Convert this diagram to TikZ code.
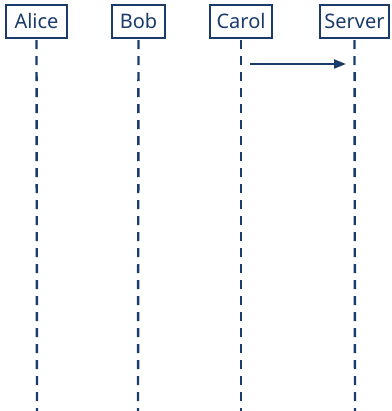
\documentclass[tikz,border=0pt]{standalone}
\usepackage{fontspec}
\setmainfont{Noto Sans}
\usetikzlibrary{arrows.meta}
\definecolor{navy}{HTML}{1B3B6A}
\begin{document}
\begin{tikzpicture}[x=1pt,y=1pt,
  actor/.style={draw=navy,line width=2.2pt,fill=white,text=navy,minimum height=33pt,inner sep=0pt,font=\fontsize{20}{20}\selectfont},
  life/.style={draw=navy,line width=2.4pt,dash pattern=on 9pt off 7pt},
  msg/.style={draw=navy,line width=2pt,-{Triangle[length=12pt,width=9pt]}}]
\useasboundingbox (0,0) rectangle (391,-411);
\node[actor,minimum width=61pt] (alice) at (36.5,-21.5) {Alice};
\node[actor,minimum width=53pt] (bob) at (138.5,-21.5) {Bob};
\node[actor,minimum width=62pt] (carol) at (241,-21.5) {Carol};
\node[actor,minimum width=69pt] (server) at (354.5,-21.5) {Server};
\coordinate (aend) at (37,-411);
\coordinate (bend) at (138,-411);
\coordinate (cend) at (241,-411);
\coordinate (send) at (355,-411);
\draw[life] (alice.south) ++(0,-1) -- (aend);
\draw[life] (bob.south) ++(0,-1) -- (bend);
\draw[life] (carol.south) ++(0,-1) -- (cend);
\draw[life] (server.south) ++(0,-1) -- (send);
\coordinate (m1s) at (250,-64);
\coordinate (m1e) at (346,-64);
\draw[msg] (m1s) -- (m1e);
\end{tikzpicture}
\end{document}
